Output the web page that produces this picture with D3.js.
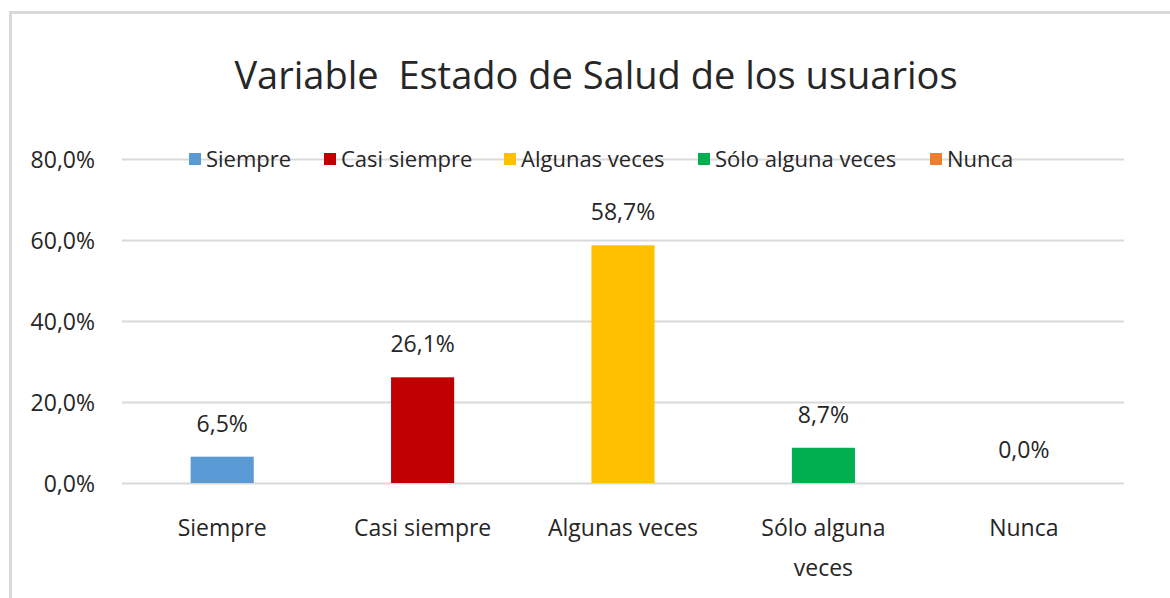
<!DOCTYPE html>
<html>
<head>
<meta charset="utf-8">
<script src="https://cdn.jsdelivr.net/npm/d3@7"></script>
<style>
    body { margin: 0; background: #fff; }
    svg text { font-family: "Liberation Sans Narrow", "Open Sans", sans-serif; fill: #262626; }
</style>
</head>
<body>
<div id="chart"></div>
<script>
var titleText = "Variable\u00a0 Estado de Salud de los usuarios";
var categories = ["Siempre", "Casi siempre", "Algunas veces", "Sólo alguna veces", "Nunca"];
var axisLabels = [["Siempre"], ["Casi siempre"], ["Algunas veces"], ["Sólo alguna", "veces"], ["Nunca"]];
var values = [6.5, 26.1, 58.7, 8.7, 0.0];
var colors = ["#5b9bd5", "#c00000", "#ffc000", "#00b050", "#ed7d31"];
var yTicks = [0, 20, 40, 60, 80];

var width = 1170, height = 598;
var margin = { top: 159, right: 46, bottom: 115, left: 122 };
var innerW = width - margin.left - margin.right;
var innerH = height - margin.top - margin.bottom;

function fmt(v) {
    return v.toFixed(1).replace(".", ",") + "%";
}

var svg = d3.select("#chart").append("svg")
    .attr("width", width)
    .attr("height", height);

// outer chart border (only left and top visible in the crop)
svg.append("path")
    .attr("d", "M10.5," + height + "V12.5H" + width)
    .attr("fill", "none")
    .attr("stroke", "#d9d9d9")
    .attr("stroke-width", 3);

svg.append("text")
    .attr("x", 596)
    .attr("y", 89)
    .attr("text-anchor", "middle")
    .style("font-size", "38px")
    .text(titleText);

var g = svg.append("g")
    .attr("transform", "translate(" + margin.left + "," + margin.top + ")");

var x = d3.scaleBand().domain(categories).range([0, innerW]).paddingInner(0.685).paddingOuter(0.3425);
var y = d3.scaleLinear().domain([0, 80]).range([innerH, 0]);

var yAxis = d3.axisLeft(y).tickValues(yTicks).tickSize(-innerW).tickPadding(27)
    .tickFormat(fmt);
var yG = g.append("g").call(yAxis);
yG.select(".domain").remove();
yG.selectAll("line").attr("stroke", "#d9d9d9").attr("stroke-width", 2);
yG.selectAll("text").style("font-size", "23px").attr("fill", "#262626").attr("dy", "0.36em");

g.selectAll("rect.bar")
    .data(values)
    .enter().append("rect")
    .attr("class", "bar")
    .attr("x", function (d, i) { return x(categories[i]); })
    .attr("y", function (d) { return y(d); })
    .attr("width", x.bandwidth())
    .attr("height", function (d) { return innerH - y(d); })
    .attr("fill", function (d, i) { return colors[i]; });

g.selectAll("text.value")
    .data(values)
    .enter().append("text")
    .attr("class", "value")
    .attr("x", function (d, i) { return x(categories[i]) + x.bandwidth() / 2; })
    .attr("y", function (d) { return y(d) - 25; })
    .attr("text-anchor", "middle")
    .style("font-size", "23px")
    .text(fmt);

var catG = g.selectAll("text.cat")
    .data(axisLabels)
    .enter().append("text")
    .attr("class", "cat")
    .attr("x", function (d, i) { return x(categories[i]) + x.bandwidth() / 2; })
    .attr("y", innerH + 53)
    .attr("text-anchor", "middle")
    .style("font-size", "23px");
catG.selectAll("tspan")
    .data(function (d) { return d; })
    .enter().append("tspan")
    .attr("x", function () { return d3.select(this.parentNode).attr("x"); })
    .attr("dy", function (d, i) { return i === 0 ? 0 : 40; })
    .text(function (d) { return d; });

// legend drawn over the 80% gridline
var legendX = [189, 324, 504, 698, 930];
var legend = svg.append("g").selectAll("g")
    .data(categories)
    .enter().append("g")
    .attr("transform", function (d, i) { return "translate(" + legendX[i] + "," + margin.top + ")"; });
legend.append("rect")
    .attr("x", -4).attr("y", -14).attr("height", 28)
    .attr("width", function (d) { return 20 + d.length * 10.6; })
    .attr("fill", "none");
legend.append("rect")
    .attr("x", 0).attr("y", -6).attr("width", 12).attr("height", 12)
    .attr("fill", function (d, i) { return colors[i]; });
legend.append("text")
    .attr("x", 17)
    .attr("dy", "0.35em")
    .style("font-size", "22px")
    .text(function (d) { return d; });
</script>
</body>
</html>
